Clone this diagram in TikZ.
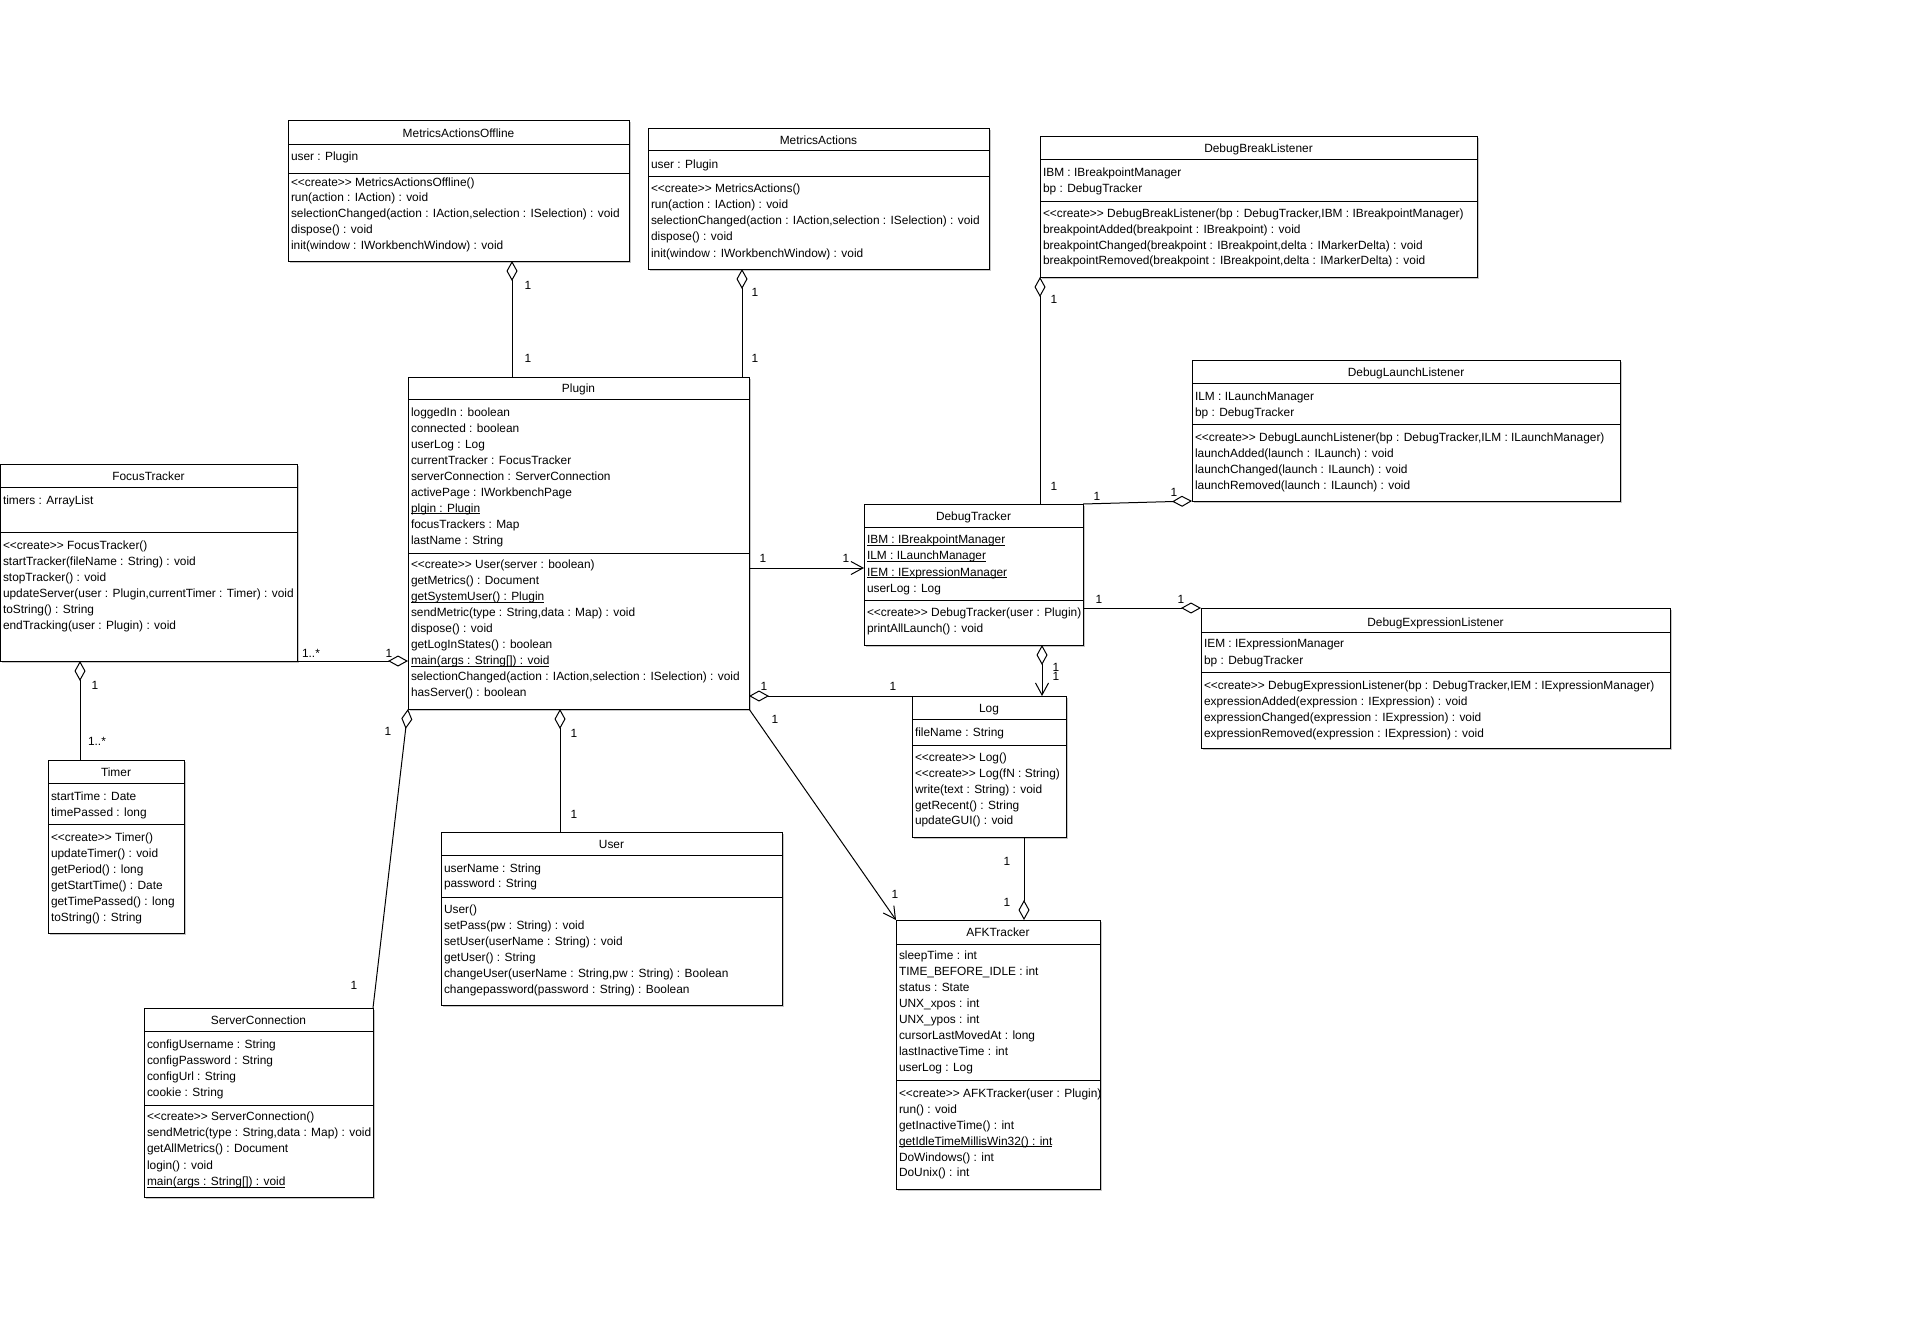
\documentclass[tikz,border=0pt]{standalone}
\usepackage{fontspec}
\newfontfamily\umlfont{Liberation Sans}[Ligatures=NoCommon]
\usetikzlibrary{arrows.meta,calc}
\tikzset{
  clsbox/.style={draw=black, line width=1pt, fill=white, inner sep=0pt, outer sep=0pt, rectangle},
  sepline/.style={draw=black, line width=1pt},
  shadowc/.style={fill=gray!45},
  rowtext/.style={inner sep=0pt, outer sep=0pt, font=\umlfont\fontsize{11.9}{14}\selectfont, anchor=base west},
  titletext/.style={rowtext, anchor=base},
  mult/.style={inner sep=0pt, outer sep=0pt, font=\umlfont\fontsize{11.9}{14}\selectfont},
  conn/.style={draw=black, line width=1pt},
  agg/.style={conn, -{Diamond[open, length=20pt, width=11pt]}},
  assoc/.style={conn, -{Straight Barb[length=12pt, width=13pt]}},
  aggnav/.style={conn, {Diamond[open, length=20pt, width=11pt]}-{Straight Barb[length=12pt, width=13pt]}},
}
\newcommand\ulin[1]{\underline{\smash{#1}}}
\newcommand\umlbox[7]{%
  \fill[shadowc] (#2+2,#3+2) rectangle (#4+2,#5+2);
  \node[clsbox, anchor=north west, minimum width={#4-#2}, minimum height={#5-#3}] (#1) at (#2,#3) {};
  \node[titletext] (#1-title) at ({(#2+#4)/2},#6) {#7};
}
\newcommand\umlsep[3]{\draw[sepline] (#1,#3) -- (#2,#3);}
\newcommand\umlrows[5]{%
  \foreach \rt [count=\ri] in {#5} {\node[rowtext] (#1-\ri) at (#2, {#3+#4*(\ri-1)}) {\rt};}%
}
\begin{document}
\begin{tikzpicture}[x=1pt,y=-1pt]
\useasboundingbox (0,0) rectangle (1910,1317);

% MetricsActionsOffline
\umlbox{MAO}{288}{120}{629}{261}{137.5}{MetricsActionsOffline}
\umlsep{288}{629}{144}\umlsep{288}{629}{173}
\umlrows{MAO-a}{291}{160.2}{16}{user : Plugin}
\umlrows{MAO-m}{291}{186.2}{15.7}{<<create>> MetricsActionsOffline(),run(action : IAction) : void,{selectionChanged(action : IAction,selection : ISelection) : void},dispose() : void,init(window : IWorkbenchWindow) : void}

% MetricsActions
\umlbox{MA}{648}{128}{989}{269}{144.5}{MetricsActions}
\umlsep{648}{989}{150}\umlsep{648}{989}{176}
\umlrows{MA-a}{651}{168.8}{16}{user : Plugin}
\umlrows{MA-m}{651}{192.2}{16.2}{<<create>> MetricsActions(),run(action : IAction) : void,{selectionChanged(action : IAction,selection : ISelection) : void},dispose() : void,init(window : IWorkbenchWindow) : void}

% DebugBreakListener
\umlbox{DBL}{1040}{136}{1477}{277}{152.8}{DebugBreakListener}
\umlsep{1040}{1477}{159}\umlsep{1040}{1477}{201}
\umlrows{DBL-a}{1043}{176.8}{15.4}{IBM : IBreakpointManager,bp : DebugTracker}
\umlrows{DBL-m}{1043}{217.8}{15.6}{{<<create>> DebugBreakListener(bp : DebugTracker,IBM : IBreakpointManager)},breakpointAdded(breakpoint : IBreakpoint) : void,{breakpointChanged(breakpoint : IBreakpoint,delta : IMarkerDelta) : void},{breakpointRemoved(breakpoint : IBreakpoint,delta : IMarkerDelta) : void}}

% DebugLaunchListener
\umlbox{DLL}{1192}{360}{1620}{501}{376.2}{DebugLaunchListener}
\umlsep{1192}{1620}{383}\umlsep{1192}{1620}{424}
\umlrows{DLL-a}{1195}{400.2}{16}{ILM : ILaunchManager,bp : DebugTracker}
\umlrows{DLL-m}{1195}{441.2}{16}{{<<create>> DebugLaunchListener(bp : DebugTracker,ILM : ILaunchManager)},launchAdded(launch : ILaunch) : void,launchChanged(launch : ILaunch) : void,launchRemoved(launch : ILaunch) : void}

% DebugTracker
\umlbox{DT}{864}{504}{1083}{645}{520.2}{DebugTracker}
\umlsep{864}{1083}{527}\umlsep{864}{1083}{600}
\umlrows{DT-a}{867}{543.8}{16.1}{\ulin{IBM : IBreakpointManager},\ulin{ILM : ILaunchManager},\ulin{IEM : IExpressionManager},userLog : Log}
\umlrows{DT-m}{867}{616.8}{16}{<<create>> DebugTracker(user : Plugin),printAllLaunch() : void}

% DebugExpressionListener
\umlbox{DEL}{1201}{608}{1670}{748}{626.2}{DebugExpressionListener}
\umlsep{1201}{1670}{632}\umlsep{1201}{1670}{672}
\umlrows{DEL-a}{1204}{647.8}{16.7}{IEM : IExpressionManager,bp : DebugTracker}
\umlrows{DEL-m}{1204}{689.5}{15.9}{{<<create>> DebugExpressionListener(bp : DebugTracker,IEM : IExpressionManager)},expressionAdded(expression : IExpression) : void,expressionChanged(expression : IExpression) : void,expressionRemoved(expression : IExpression) : void}

% Plugin
\umlbox{Plugin}{408}{377}{749}{709}{392.2}{Plugin}
\umlsep{408}{749}{399}\umlsep{408}{749}{553}
\umlrows{Plugin-a}{411}{416.2}{16}{loggedIn : boolean,connected : boolean,userLog : Log,currentTracker : FocusTracker,serverConnection : ServerConnection,activePage : IWorkbenchPage,\ulin{plgin : Plugin},focusTrackers : Map,lastName : String}
\umlrows{Plugin-m}{411}{568.8}{16}{<<create>> User(server : boolean),getMetrics() : Document,\ulin{getSystemUser() : Plugin},{sendMetric(type : String,data : Map) : void},dispose() : void,getLogInStates() : boolean,\ulin{main(args : String[]) : void},{selectionChanged(action : IAction,selection : ISelection) : void},hasServer() : boolean}

% FocusTracker
\umlbox{FT}{0}{464}{297}{661}{480.2}{FocusTracker}
\umlsep{0}{297}{487}\umlsep{0}{297}{532}
\umlrows{FT-a}{3}{504.2}{16}{timers : ArrayList}
\begin{scope}
\clip (0,533) rectangle (296.5,660);
\umlrows{FT-m}{3}{549.2}{16}{<<create>> FocusTracker(),startTracker(fileName : String) : void,stopTracker() : void,{updateServer(user : Plugin,currentTimer : Timer) : void},toString() : String,endTracking(user : Plugin) : void}
\end{scope}

% Timer
\umlbox{Timer}{48}{760}{184}{933}{776.2}{Timer}
\umlsep{48}{184}{783}\umlsep{48}{184}{824}
\umlrows{Timer-a}{51}{800.2}{16}{startTime : Date,timePassed : long}
\umlrows{Timer-m}{51}{841.2}{16}{<<create>> Timer(),updateTimer() : void,getPeriod() : long,getStartTime() : Date,getTimePassed() : long,toString() : String}

% Log
\umlbox{Log}{912}{696}{1066}{837}{712.4}{Log}
\umlsep{912}{1066}{719}\umlsep{912}{1066}{745}
\umlrows{Log-a}{915}{736.3}{16}{fileName : String}
\umlrows{Log-m}{915}{761.3}{15.9}{<<create>> Log(),<<create>> Log(fN : String),write(text : String) : void,getRecent() : String,updateGUI() : void}

% AFKTracker
\umlbox{AFK}{896}{920}{1100}{1189}{936.3}{AFKTracker}
\umlsep{896}{1100}{944}\umlsep{896}{1100}{1080}
\umlrows{AFK-a}{899}{959.9}{16}{sleepTime : int,TIME\_BEFORE\_IDLE : int,status : State,UNX\_xpos : int,UNX\_ypos : int,cursorLastMovedAt : long,lastInactiveTime : int,userLog : Log}
\umlrows{AFK-m}{899}{1097.4}{15.9}{<<create>> AFKTracker(user : Plugin),run() : void,getInactiveTime() : int,\ulin{getIdleTimeMillisWin32() : int},DoWindows() : int,DoUnix() : int}

% User
\umlbox{User}{441}{832}{782}{1005}{848.5}{User}
\umlsep{441}{782}{855}\umlsep{441}{782}{897}
\umlrows{User-a}{444}{872.8}{15}{userName : String,password : String}
\umlrows{User-m}{444}{913.8}{16}{User(),setPass(pw : String) : void,setUser(userName : String) : void,getUser() : String,{changeUser(userName : String,pw : String) : Boolean},changepassword(password : String) : Boolean}

% ServerConnection
\umlbox{SC}{144}{1008}{373}{1197}{1024.5}{ServerConnection}
\umlsep{144}{373}{1031}\umlsep{144}{373}{1105}
\umlrows{SC-a}{147}{1048.5}{15.9}{configUsername : String,configPassword : String,configUrl : String,cookie : String}
\umlrows{SC-m}{147}{1120.5}{16.2}{<<create>> ServerConnection(),{sendMetric(type : String,data : Map) : void},getAllMetrics() : Document,login() : void,\ulin{main(args : String[]) : void}}

% connectors
\draw[agg] ($(Plugin.north west)+(104,0)$) -- ($(MAO.south west)+(224,0)$);
\draw[agg] ($(Plugin.north west)+(334,0)$) -- ($(MA.south west)+(94,0)$);
\draw[agg] ($(DT.north west)+(176,0)$) -- (DBL.south west);
\draw[agg] (DT.north east) -- (DLL.south west);
\draw[assoc] ($(Plugin.north east)+(0,191)$) -- ($(DT.north west)+(0,64)$);
\draw[agg] ($(DT.north east)+(0,104)$) -- (DEL.north west);
\draw[aggnav] ($(DT.south west)+(178,0)$) -- ($(Log.north west)+(130,0)$);
\draw[agg] (Log.north west) -- ($(Plugin.north east)+(0,319)$);
\draw[assoc] (Plugin.south east) -- (AFK.north west);
\draw[agg] ($(Log.south west)+(112,0)$) -- ($(AFK.north west)+(128,0)$);
\draw[agg] ($(User.north west)+(119,0)$) -- ($(Plugin.south west)+(152,0)$);
\draw[agg] (SC.north east) -- (Plugin.south west);
\draw[agg] (FT.south east) -- ($(Plugin.north west)+(0,284)$);
\draw[agg] ($(Timer.north west)+(32,0)$) -- ($(FT.south west)+(80,0)$);

% multiplicities
\node[mult] (m1) at (528,285) {1};
\node[mult] (m2) at (528,358) {1};
\node[mult] (m3) at (755,292) {1};
\node[mult] (m4) at (755,358) {1};
\node[mult] (m5) at (1054,299) {1};
\node[mult] (m6) at (1054,486) {1};
\node[mult] (m7) at (1097,496) {1};
\node[mult] (m8) at (1174,492) {1};
\node[mult] (m9) at (763,558) {1};
\node[mult] (m10) at (846,558) {1};
\node[mult] (m11) at (1099,599) {1};
\node[mult] (m12) at (1181,599) {1};
\node[mult] (m13) at (1056,667) {1};
\node[mult] (m14) at (1056,676) {1};
\node[mult] (m15) at (764,686) {1};
\node[mult] (m16) at (893,686) {1};
\node[mult] (m17) at (775,719) {1};
\node[mult] (m18) at (895,894) {1};
\node[mult] (m19) at (1007,861) {1};
\node[mult] (m20) at (1007,902) {1};
\node[mult] (m21) at (574,733) {1};
\node[mult] (m22) at (574,814) {1};
\node[mult] (m23) at (388,731) {1};
\node[mult] (m24) at (354,985) {1};
\node[mult] (m25) at (311,653) {1..*};
\node[mult] (m26) at (389,653) {1};
\node[mult] (m27) at (95,685) {1};
\node[mult] (m28) at (97,741) {1..*};
\end{tikzpicture}
\end{document}
